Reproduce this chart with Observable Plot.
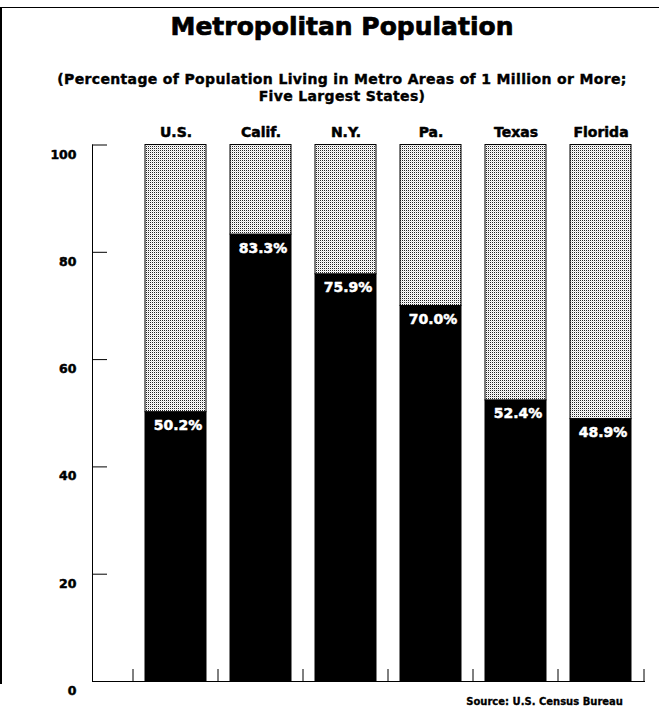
<!DOCTYPE html>
<html><head><meta charset="utf-8">
<script src="https://cdn.jsdelivr.net/npm/d3@7"></script>
<script src="https://cdn.jsdelivr.net/npm/@observablehq/plot@0.6"></script>
<style>
body{margin:0;background:#fff;font-family:"DejaVu Sans",sans-serif;font-weight:bold;color:#000;}
#page{position:relative;width:659px;height:712px;overflow:hidden;background:#fff;}
#border{position:absolute;left:0;top:7px;width:657px;height:676px;border-left:2px solid #000;border-top:1px solid #000;}
#title{position:absolute;left:25px;top:12px;width:634px;text-align:center;font-size:25px;line-height:30px;white-space:nowrap;-webkit-text-stroke:0.7px #000;}
#subtitle{position:absolute;left:25px;top:70.6px;width:634px;text-align:center;font-size:14px;line-height:17px;letter-spacing:0.35px;-webkit-text-stroke:0.4px #000;white-space:nowrap;}
#chart{position:absolute;left:0;top:110px;}
#source{position:absolute;right:36px;top:695.5px;font-size:10px;line-height:12px;white-space:nowrap;-webkit-text-stroke:0.3px #000;}
</style></head>
<body>
<div id="page">
  <div id="border"></div>
  <div id="title">Metropolitan Population</div>
  <div id="subtitle">(Percentage of Population Living in Metro Areas of 1 Million or More;<br>Five Largest States)</div>
  <div id="chart"></div>
  <div id="source">Source: U.S. Census Bureau</div>
</div>
<script>
const states = ["U.S.", "Calif.", "N.Y.", "Pa.", "Texas", "Florida"];
const metroShare = [50.2, 83.3, 75.9, 70.0, 52.4, 48.9];
const yTicks = [0, 20, 40, 60, 80, 100];
const parts = ["Metro", "Other"];
const partColors = ["#000", "url(#stipple)"];

const rows = states.flatMap((s, i) => [
  {state: s, part: parts[0], value: metroShare[i]},
  {state: s, part: parts[1], value: 100 - metroShare[i]}
]);

const chart = Plot.plot({
  width: 659,
  height: 602,
  marginTop: 34.5,
  marginBottom: 31,
  marginLeft: 92,
  marginRight: 14,
  style: {fontFamily: "DejaVu Sans", fontWeight: "bold", fontSize: "13px", color: "#000", background: "transparent"},
  x: {domain: states, range: [131, 646], paddingInner: 0.277, paddingOuter: 0.1385, align: 0.5},
  y: {domain: [0, 100]},
  color: {domain: parts, range: partColors},
  marks: [
    Plot.barY(rows, {x: "state", y: "value", fill: "part", stroke: "#000", strokeWidth: 1}),
    Plot.text(metroShare, {x: (d, i) => states[i], y: d => d, text: d => d.toFixed(1) + "%", fill: "#fff", stroke: "#fff", strokeWidth: 0.5, fontSize: 14, fontWeight: "bold", lineAnchor: "top", dy: 8, dx: 2}),
    Plot.frame({anchor: "left"}),
    Plot.ruleY([0]),
    Plot.axisY(yTicks, {anchor: "left", tickSize: -15, fill: "none", label: null}),
    Plot.axisY(yTicks, {anchor: "left", tickSize: 0, tickPadding: 16, dy: 9.5, fontSize: 12.5, textStroke: "#000", textStrokeWidth: 0.5, label: null}),
    Plot.axisX({anchor: "top", tickSize: 0, tickPadding: 8, fontSize: 14, textStroke: "#000", textStrokeWidth: 0.5, label: null}),
    Plot.axisX(states, {anchor: "bottom", tickSize: -12, dx: -43, fill: "none", label: null}),
    Plot.axisX(states.slice(-1), {anchor: "bottom", tickSize: -12, dx: 43, fill: "none", label: null})
  ]
});

const svg = d3.select(chart);
const defs = svg.insert("defs", ":first-child");
const pat = defs.append("pattern").attr("id", "stipple").attr("patternUnits", "userSpaceOnUse").attr("width", 2).attr("height", 2);
pat.append("rect").attr("width", 2).attr("height", 2).attr("fill", "#fff");
pat.append("rect").attr("x", 0).attr("y", 0).attr("width", 1).attr("height", 1).attr("fill", "#222");
pat.append("rect").attr("x", 1).attr("y", 1).attr("width", 1).attr("height", 1).attr("fill", "#ddd");

document.getElementById("chart").appendChild(chart);
</script>
</body></html>
